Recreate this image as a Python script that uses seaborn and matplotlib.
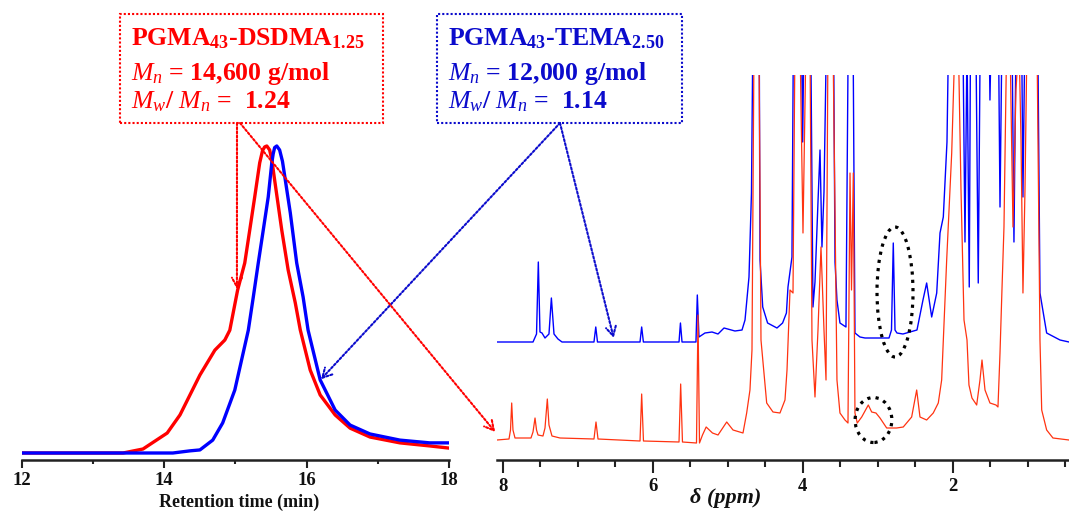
import numpy as np
import pandas as pd
import matplotlib
matplotlib.use("Agg")
import matplotlib.pyplot as plt
import seaborn as sns
from matplotlib.patches import Rectangle, Ellipse

# ---------------- GPC data (retention time in min, normalised RI signal) ----------------
gpc_time_red = [12.0, 13.42, 13.70, 14.04, 14.22, 14.50, 14.71, 14.85, 14.92, 15.03, 15.13,
                15.20, 15.27, 15.34, 15.38, 15.41, 15.44, 15.48, 15.51, 15.55, 15.65, 15.74,
                15.84, 15.91, 16.05, 16.19, 16.40, 16.61, 16.89, 17.31, 17.73, 18.0]
gpc_red = [0.0, 0.0, 0.013, 0.065, 0.124, 0.254, 0.335, 0.368, 0.40, 0.531, 0.619,
           0.726, 0.834, 0.945, 0.985, 0.997, 1.0, 0.987, 0.955, 0.889, 0.726, 0.596,
           0.489, 0.401, 0.270, 0.189, 0.124, 0.081, 0.052, 0.033, 0.023, 0.016]

gpc_time_blue = [12.0, 14.12, 14.36, 14.50, 14.68, 14.82, 14.99, 15.18, 15.25, 15.32, 15.39,
                 15.46, 15.51, 15.53, 15.55, 15.58, 15.62, 15.66, 15.70, 15.77, 15.86, 15.95,
                 16.02, 16.19, 16.40, 16.61, 16.89, 17.31, 17.73, 18.0]
gpc_blue = [0.0, 0.0, 0.007, 0.010, 0.042, 0.098, 0.205, 0.40, 0.508, 0.619, 0.726,
            0.834, 0.945, 0.975, 0.995, 1.0, 0.987, 0.95, 0.889, 0.782, 0.619, 0.508,
            0.40, 0.238, 0.140, 0.091, 0.062, 0.042, 0.033, 0.033]

gpc_ticks = [12, 14, 16, 18]
gpc_tick_labels = ["12", "14", "16", "18"]

# ---------------- 1H NMR data (ppm, intensity; peaks above 365 are off-scale) ----------------
nmr_ppm_blue = [8.076, 7.596, 7.549, 7.525, 7.503, 7.476, 7.436, 7.383, 7.351, 7.316, 7.263, 7.209,
                6.783, 6.759, 6.736, 6.169, 6.147, 6.124, 5.649, 5.630, 5.609, 5.423, 5.405, 5.383,
                5.303, 5.209, 5.129, 5.049, 4.903, 4.809, 4.769, 4.716, 4.683, 4.653, 4.584, 4.569,
                4.533, 4.468, 4.343, 4.268, 4.217, 4.196, 4.143, 4.116, 4.03, 4.00, 3.97, 3.903,
                3.863, 3.836, 3.796, 3.769, 3.743, 3.716, 3.663, 3.596, 3.569, 3.543, 3.503, 3.423,
                3.383, 3.336, 3.303, 3.236, 3.169, 2.849, 2.816, 2.792, 2.769, 2.743, 2.663, 2.476,
                2.396, 2.347, 2.280, 2.213, 2.169, 2.125, 2.076, 2.036, 1.903, 1.876, 1.836, 1.809,
                1.779, 1.756, 1.703, 1.659, 1.623, 1.529, 1.503, 1.463, 1.40, 1.369, 1.329, 1.22,
                1.183, 1.143, 1.09, 1.063, 1.023, 0.876, 0.836, 0.747, 0.569, 0.449]
nmr_int_blue = [0, 0, 8, 80, 10, 9, 4, 8, 44, 8, 3, 0,
                0, 15, 0, 0, 15, 0, 0, 19, 0, 0, 47, 5,
                9, 10, 8, 14, 11, 12, 22, 65, 149, 400, 400, 82,
                35, 19, 14, 19, 29, 55, 85, 400, 400, 200, 400, 400,
                35, 60, 140, 192, 95, 150, 400, 400, 80, 42, 19, 15,
                400, 400, 9, 5, 4, 4, 12, 99, 12, 9, 8, 12,
                42, 59, 25, 49, 109, 125, 200, 400, 400, 400, 100, 300,
                55, 400, 400, 59, 400, 400, 242, 400, 400, 135, 400, 400,
                100, 400, 400, 145, 400, 400, 49, 9, 2, 0]

nmr_ppm_red = [8.076, 7.916, 7.896, 7.880, 7.863, 7.836, 7.623, 7.596, 7.569, 7.549, 7.529, 7.463,
               7.436, 7.405, 7.383, 7.343, 7.236, 6.783, 6.756, 6.729, 6.169, 6.147, 6.123, 5.649,
               5.627, 5.603, 5.416, 5.396, 5.376, 5.336, 5.287, 5.203, 5.129, 5.013, 4.929, 4.796,
               4.747, 4.703, 4.676, 4.649, 4.583, 4.556, 4.48, 4.396, 4.303, 4.236, 4.209, 4.169,
               4.129, 4.103, 4.036, 3.996, 3.956, 3.903, 3.876, 3.836, 3.796, 3.756, 3.716, 3.689,
               3.663, 3.596, 3.543, 3.503, 3.436, 3.396, 3.369, 3.349, 3.325, 3.303, 3.272, 3.213,
               3.125, 3.080, 3.023, 2.969, 2.880, 2.747, 2.659, 2.547, 2.480, 2.436, 2.347, 2.259,
               2.192, 2.147, 2.080, 2.013, 1.969, 1.925, 1.889, 1.849, 1.809, 1.783, 1.743, 1.680,
               1.636, 1.609, 1.569, 1.503, 1.423, 1.396, 1.369, 1.343, 1.316, 1.280, 1.236, 1.196,
               1.156, 1.116, 1.089, 1.063, 1.036, 1.009, 0.876, 0.836, 0.813, 0.747, 0.663, 0.449]
nmr_int_red = [0, 1, 10, 37, 10, 2, 2, 8, 22, 10, 5, 4,
               12, 41, 15, 4, 2, 1, 18, 1, -1, 46, -1, -2,
               56, -2, -3, 125, -3, 5, 13, 7, 5, 18, 10, 7,
               27, 50, 90, 400, 400, 100, 37, 28, 27, 40, 70, 150,
               147, 400, 400, 207, 400, 400, 100, 43, 110, 193, 110, 60,
               400, 400, 60, 27, 20, 17, 267, 150, 267, 27, 17, 23,
               35, 28, 27, 22, 12, 12, 13, 23, 50, 23, 20, 27,
               37, 60, 180, 287, 400, 400, 250, 120, 100, 55, 42, 35,
               60, 80, 50, 37, 35, 33, 87, 150, 213, 400, 400, 213,
               350, 400, 300, 147, 250, 400, 400, 100, 30, 10, 2, 0]

blue_offset = 98
nmr_ticks = [8, 6, 4, 2]
nmr_tick_labels = ["8", "6", "4", "2"]

# ---------------- styling ----------------
sns.set_theme(style="white")
plt.rcParams['font.family'] = ['Liberation Serif', 'DejaVu Serif']
plt.rcParams['mathtext.fontset'] = 'custom'
plt.rcParams['mathtext.rm'] = 'Liberation Serif:bold'
plt.rcParams['mathtext.bf'] = 'Liberation Serif:bold'
plt.rcParams['mathtext.it'] = 'Liberation Serif:italic'

RED = "#ff0000"
BLUE = "#0000ff"
NMR_RED = "#ff3311"
TXT_BLUE = "#0b0bcc"

W, H = 1069, 512
fig = plt.figure(figsize=(W / 100, H / 100), dpi=100)
ax1 = fig.add_axes([22 / W, 52 / H, 427 / W, 320 / H])
ax2 = fig.add_axes([497 / W, 52 / H, 572 / W, 385 / H])

# ---------------- GPC panel ----------------
gpc_df = pd.concat([
    pd.DataFrame({"time": gpc_time_red, "signal": gpc_red, "sample": "DSDMA"}),
    pd.DataFrame({"time": gpc_time_blue, "signal": gpc_blue, "sample": "TEMA"}),
])
sns.lineplot(data=gpc_df, x="time", y="signal", hue="sample",
             palette={"DSDMA": RED, "TEMA": BLUE}, hue_order=["DSDMA", "TEMA"],
             estimator=None, sort=False, lw=2.4, legend=False, ax=ax1)
for ln in ax1.lines:
    ln.set_solid_capstyle("round")
    ln.set_solid_joinstyle("round")
ax1.set_xlim(12, 18)
ax1.set_ylim(-0.0228, 1.0195)
ax1.set_xticks(gpc_ticks)
ax1.set_xticks([13, 15, 17], minor=True)
ax1.set_xticklabels(gpc_tick_labels, fontweight="bold", fontsize=13.5)
ax1.set_yticks([])
ax1.tick_params(axis="x", which="major", bottom=True, direction="out", length=5.5,
                width=1.5, color="#222222", pad=3, labelcolor="#111111")
ax1.tick_params(axis="x", which="minor", bottom=True, direction="out", length=3,
                width=1.5, color="#222222")
ax1.set_xlabel("Retention time (min)", fontsize=13, fontweight="bold", color="#111111")
ax1.set_ylabel("")
ax1.xaxis.set_label_coords(0.508, -0.131)
ax1.xaxis.label.set_va("center")

# ---------------- NMR panel ----------------
nmr_blue_df = pd.DataFrame({"ppm": nmr_ppm_blue,
                            "intensity": np.array(nmr_int_blue, float) + blue_offset})
nmr_red_df = pd.DataFrame({"ppm": nmr_ppm_red, "intensity": nmr_int_red})
sns.lineplot(data=nmr_blue_df, x="ppm", y="intensity", color=BLUE, lw=1.0,
             estimator=None, sort=False, ax=ax2)
sns.lineplot(data=nmr_red_df, x="ppm", y="intensity", color=NMR_RED, lw=0.9,
             estimator=None, sort=False, ax=ax2)
ax2.set_xlim(8.076, 0.449)
ax2.set_ylim(-20, 365)
ax2.set_xticks(nmr_ticks)
ax2.set_xticks([7.5, 7, 6.5, 5.5, 5, 4.5, 3.5, 3, 2.5, 1.5, 1, 0.5], minor=True)
ax2.set_xticklabels(nmr_tick_labels, fontweight="bold", fontsize=13.5)
ax2.set_yticks([])
ax2.tick_params(axis="x", which="major", bottom=True, direction="out", length=9,
                width=1.5, color="#222222", pad=4, labelcolor="#111111")
ax2.tick_params(axis="x", which="minor", bottom=True, direction="out", length=5,
                width=1.5, color="#222222")
ax2.set_xlabel("δ (ppm)", fontsize=16, fontweight="bold", fontstyle="italic",
               color="#111111")
ax2.set_ylabel("")
ax2.xaxis.set_label_coords(0.399, -0.099)
ax2.xaxis.label.set_va("center")

for ax in (ax1, ax2):
    for s in ("left", "top", "right"):
        ax.spines[s].set_visible(False)
    ax.spines["bottom"].set_linewidth(1.8)
    ax.spines["bottom"].set_color("#222222")
    ax.patch.set_alpha(0)

# dotted ellipses highlighting the signals
ax2.add_patch(Ellipse((2.769, 148), width=0.48, height=130, fill=False, ec="black",
                      lw=2.3, linestyle=(0, (1, 1.6)), zorder=5))
ax2.add_patch(Ellipse((3.056, 20), width=0.49, height=45, fill=False, ec="black",
                      lw=2.3, linestyle=(0, (1, 1.6)), zorder=5))

# ---------------- annotation boxes ----------------
box_red = Rectangle((120 / W, 1 - 123 / H), 263 / W, 109 / H, transform=fig.transFigure,
                    fill=False, ec=RED, lw=1.5, linestyle=(0, (1, 1)))
box_blue = Rectangle((437 / W, 1 - 123 / H), 245 / W, 109 / H, transform=fig.transFigure,
                     fill=False, ec=TXT_BLUE, lw=1.5, linestyle=(0, (1, 1)))
fig.add_artist(box_red)
fig.add_artist(box_blue)

fs = 18.5
fig.text(131 / W, 1 - 45 / H, "PGMA$_{43}$-DSDMA$_{1.25}$", fontsize=fs, fontweight="bold",
         color=RED, va="baseline")
fig.text(131 / W, 1 - 80 / H, "$M_n$ = 14,600 g/mol", fontsize=fs, fontweight="bold",
         color=RED, va="baseline")
fig.text(131 / W, 1 - 108 / H, "$M_w$/ $M_n$ =  1.24", fontsize=fs, fontweight="bold",
         color=RED, va="baseline")
fig.text(448 / W, 1 - 45 / H, "PGMA$_{43}$-TEMA$_{2.50}$", fontsize=fs, fontweight="bold",
         color=TXT_BLUE, va="baseline")
fig.text(448 / W, 1 - 80 / H, "$M_n$ = 12,000 g/mol", fontsize=fs, fontweight="bold",
         color=TXT_BLUE, va="baseline")
fig.text(448 / W, 1 - 108 / H, "$M_w$/ $M_n$ =  1.14", fontsize=fs, fontweight="bold",
         color=TXT_BLUE, va="baseline")

# dotted arrows from boxes to curves
arrow_kw = dict(arrowstyle="->,head_length=0.55,head_width=0.3", lw=1.5,
                linestyle=(0, (1, 1)), shrinkA=0, shrinkB=0)
ax1.annotate("", xy=(15.02, 0.534), xycoords="data", xytext=(237 / W, 1 - 123 / H),
             textcoords="figure fraction", annotation_clip=False,
             arrowprops=dict(color=RED, **arrow_kw))
ax2.annotate("", xy=(8.10, 8), xycoords="data", xytext=(240 / W, 1 - 123 / H),
             textcoords="figure fraction", annotation_clip=False,
             arrowprops=dict(color=RED, **arrow_kw))
ax1.annotate("", xy=(16.2, 0.24), xycoords="data", xytext=(560 / W, 1 - 123 / H),
             textcoords="figure fraction", annotation_clip=False,
             arrowprops=dict(color=TXT_BLUE, **arrow_kw))
ax2.annotate("", xy=(6.52, 102), xycoords="data", xytext=(560 / W, 1 - 123 / H),
             textcoords="figure fraction", annotation_clip=False,
             arrowprops=dict(color=TXT_BLUE, **arrow_kw))

fig.savefig("out.png", dpi=100)
